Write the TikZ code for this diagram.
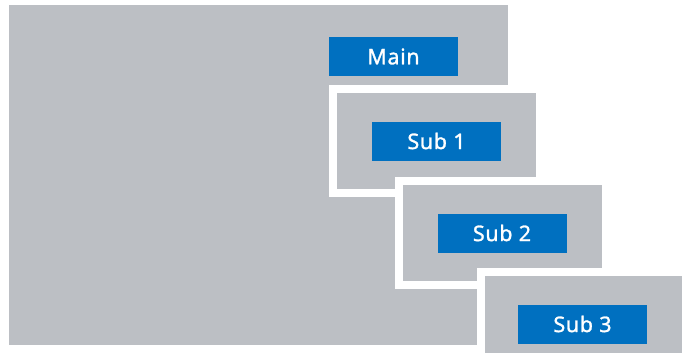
\documentclass[tikz,border=0pt]{standalone}
\usepackage{fontspec}
\setmainfont{Noto Sans}
\definecolor{panelgray}{RGB}{188,191,196}
\definecolor{boxblue}{RGB}{0,112,192}
\begin{document}
\begin{tikzpicture}[x=1pt,y=-1pt,
  panel/.style={rectangle,fill=panelgray,draw=white,line width=8pt,
    minimum width=207pt,minimum height=104pt,inner sep=0pt,outer sep=0pt},
  mainpanel/.style={rectangle,fill=panelgray,minimum width=499pt,
    minimum height=340pt,inner sep=0pt,outer sep=0pt},
  labelbox/.style={rectangle,fill=boxblue,text=white,minimum width=129pt,
    minimum height=39pt,inner sep=0pt,outer sep=0pt,
    font=\fontsize{21.5}{22}\selectfont\addfontfeatures{FakeBold=1.2,LetterSpace=3}}]
\clip (0,0) rectangle (682,353);
\fill[white] (0,0) rectangle (682,353);
\node[mainpanel] (main) at (258.5,175) {};
\node[labelbox] (mainlbl) at (393.5,56.5) {Main};
\node[panel] (sub1) at (436.5,141) {};
\node[labelbox] (sub1lbl) at (sub1.center) {Sub 1};
\node[panel] (sub2) at (502,233) {};
\node[labelbox] (sub2lbl) at (sub2.center) {Sub 2};
\node[panel] (sub3) at (584.5,324) {};
\node[labelbox] (sub3lbl) at ([xshift=-2pt]sub3.center) {Sub 3};
\end{tikzpicture}
\end{document}
